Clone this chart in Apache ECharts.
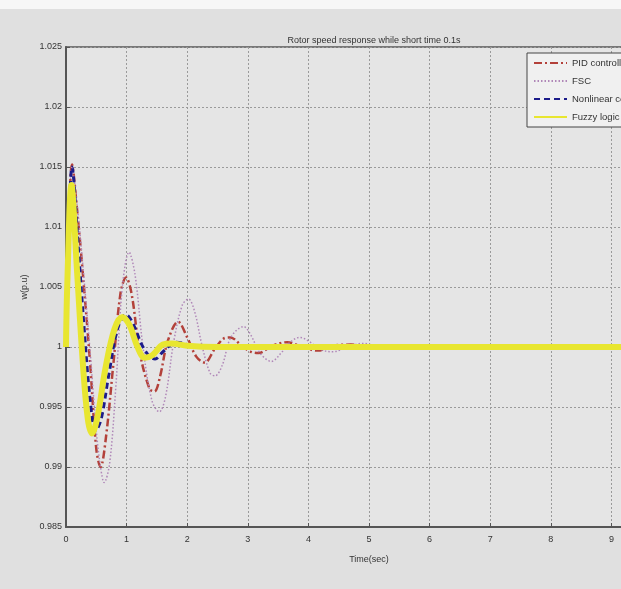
<!DOCTYPE html>
<html>
<head>
<meta charset="utf-8">
<script src="https://cdn.jsdelivr.net/npm/echarts@6/dist/echarts.min.js"></script>
<style>
  html, body { margin: 0; padding: 0; background: #e0e0e0; }
  #chart { width: 621px; height: 589px; }
</style>
</head>
<body>
<div id="chart"></div>
<script>
// values (time in s, speed in p.u.)
var xTicks = [0, 1, 2, 3, 4, 5, 6, 7, 8, 9, 10];
var yTicks = [0.985, 0.99, 0.995, 1, 1.005, 1.01, 1.015, 1.02, 1.025];

var pidT = [0, 0.03, 0.1, 0.2, 0.3, 0.4, 0.5, 0.57, 0.66, 0.78, 0.9, 0.99, 1.08, 1.22, 1.38, 1.46, 1.55, 1.68, 1.85, 2.0, 2.15, 2.29, 2.45, 2.6, 2.71, 2.9, 3.05, 3.18, 3.4, 3.65, 3.9, 4.15, 4.4, 4.7, 5.0, 5.4, 6, 7, 8, 9, 10];
var pidY = [1.0, 1.006, 1.0152, 1.0105, 1.0048, 0.9985, 0.9915, 0.9900, 0.9925, 0.9985, 1.0045, 1.0058, 1.0045, 0.9995, 0.9965, 0.9963, 0.9975, 1.0005, 1.0021, 1.0008, 0.9992, 0.9987, 0.9998, 1.0007, 1.0008, 1.0001, 0.9996, 0.9995, 1.0001, 1.0004, 1.0, 0.9997, 1.0001, 1.0002, 1.0, 0.9999, 1.0, 1.0, 1.0, 1.0, 1.0];

var fscT = [0, 0.03, 0.1, 0.2, 0.3, 0.4, 0.5, 0.57, 0.63, 0.72, 0.82, 0.93, 1.04, 1.14, 1.27, 1.42, 1.54, 1.64, 1.78, 1.92, 2.02, 2.12, 2.25, 2.38, 2.46, 2.58, 2.72, 2.93, 3.05, 3.2, 3.39, 3.55, 3.7, 3.86, 4.0, 4.2, 4.4, 4.65, 4.9, 5.2, 5.5, 6, 7, 10];
var fscY = [1.0, 1.006, 1.015, 1.011, 1.0055, 0.9995, 0.993, 0.99, 0.9887, 0.9903, 0.9965, 1.005, 1.0079, 1.006, 1.0, 0.9955, 0.9946, 0.9958, 1.0005, 1.0035, 1.004, 1.003, 1.0, 0.9978, 0.9976, 0.9985, 1.0008, 1.0017, 1.001, 0.9995, 0.9988, 0.9995, 1.0004, 1.0008, 1.0005, 0.9998, 0.9996, 1.0, 1.0003, 1.0, 0.9999, 1.0, 1.0, 1.0];

var nlcT = [0, 0.03, 0.1, 0.2, 0.3, 0.4, 0.49, 0.58, 0.7, 0.85, 0.99, 1.1, 1.25, 1.38, 1.47, 1.6, 1.82, 2.1, 2.5, 3, 10];
var nlcY = [1.0, 1.006, 1.015, 1.0085, 1.0015, 0.9955, 0.993, 0.994, 0.9975, 1.0015, 1.0027, 1.002, 1.0002, 0.9992, 0.999, 0.9996, 1.0004, 1.0001, 1.0, 1.0, 1.0];

var flcT = [0, 0.02, 0.09, 0.18, 0.28, 0.36, 0.43, 0.52, 0.65, 0.8, 0.93, 1.05, 1.18, 1.3, 1.42, 1.6, 1.75, 2.0, 2.5, 10];
var flcY = [1.0, 1.005, 1.0135, 1.0065, 0.9985, 0.994, 0.9928, 0.9942, 0.9982, 1.0015, 1.0025, 1.0018, 1.0, 0.9991, 0.9993, 1.0002, 1.0003, 1.0001, 1.0, 1.0];

var names = ['PID controller', 'FSC', 'Nonlinear controller', 'Fuzzy logic controller'];

function pairs(t, y) {
  return t.map(function (v, i) { return [v, y[i]]; });
}

var chart = echarts.init(document.getElementById('chart'));
var font = 'Liberation Sans, Arial, sans-serif';

var option = {
  backgroundColor: '#e0e0e0',
  animation: false,
  graphic: [{
    type: 'rect', left: 0, top: 0, shape: { width: 621, height: 9 },
    style: { fill: '#f7f7f7' }, z: -1
  }],
  title: {
    text: 'Rotor speed response while short time 0.1s',
    left: 369, top: 31, textAlign: 'center',
    textStyle: { fontFamily: font, fontSize: 9, fontWeight: 'normal', color: '#333' }
  },
  legend: {
    data: names,
    orient: 'vertical',
    left: 527, top: 53,
    itemWidth: 33, itemHeight: 10, itemGap: 8,
    padding: [5, 6],
    backgroundColor: '#f0f0f0',
    borderColor: '#444', borderWidth: 1,
    itemStyle: { opacity: 0 },
    textStyle: { fontFamily: font, fontSize: 9.5, color: '#333' }
  },
  grid: {
    left: 66, top: 47, width: 606, height: 480,
    outerBoundsMode: 'none',
    show: true, backgroundColor: '#e5e5e5',
    borderColor: '#555', borderWidth: 1.5
  },
  xAxis: {
    type: 'value', min: xTicks[0], max: xTicks[xTicks.length - 1], interval: 1,
    name: 'Time(sec)', nameLocation: 'middle', nameGap: 28,
    nameTextStyle: { fontFamily: font, fontSize: 9, color: '#333' },
    axisLine: { lineStyle: { color: '#555', width: 2 } },
    axisTick: { inside: true, length: 4, lineStyle: { color: '#555' } },
    axisLabel: { fontFamily: font, fontSize: 9, color: '#333', margin: 8 },
    splitLine: { show: true, lineStyle: { type: [2, 2], color: '#9a9a9a' } }
  },
  yAxis: {
    type: 'value', min: yTicks[0], max: yTicks[yTicks.length - 1], interval: 0.005,
    name: 'w(p.u)', nameLocation: 'middle', nameGap: 30,
    nameTextStyle: { fontFamily: font, fontSize: 9, color: '#333' },
    axisLine: { show: true, lineStyle: { color: '#555', width: 2 } },
    axisTick: { show: true, inside: true, length: 4, lineStyle: { color: '#555' } },
    axisLabel: {
      fontFamily: font, fontSize: 9, color: '#333', margin: 4,
      formatter: function (v) { return String(parseFloat(v.toFixed(3))); }
    },
    splitLine: { show: true, lineStyle: { type: [2, 2], color: '#9a9a9a' } }
  },
  series: [
    {
      name: names[0], type: 'line', data: pairs(pidT, pidY),
      smooth: 0.35, symbol: 'none', color: '#b3413a',
      lineStyle: { width: 2.5, type: [8, 3, 2, 3] }
    },
    {
      name: names[1], type: 'line', data: pairs(fscT, fscY),
      smooth: 0.35, symbol: 'none', color: '#b087b8',
      lineStyle: { width: 1.5, type: [1.5, 2] }
    },
    {
      name: names[2], type: 'line', data: pairs(nlcT, nlcY),
      smooth: 0.35, symbol: 'none', color: '#1c1c8a',
      lineStyle: { width: 3, type: [6, 4] }
    },
    {
      name: names[3], type: 'line', data: pairs(flcT, flcY),
      smooth: 0.35, symbol: 'none', color: '#e8e630',
      lineStyle: { width: 6 }
    }
  ]
};

chart.setOption(option);
</script>
</body>
</html>
